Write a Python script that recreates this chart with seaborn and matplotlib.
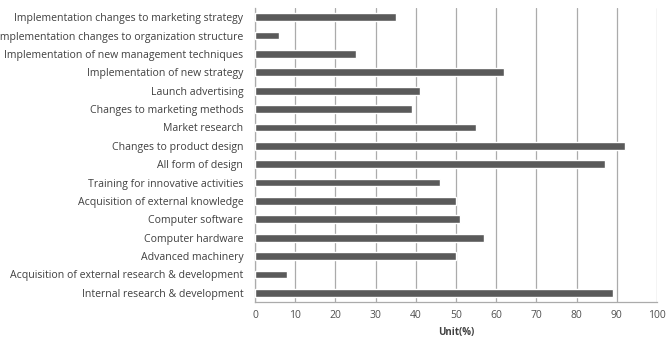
import matplotlib
matplotlib.use("Agg")
import matplotlib.pyplot as plt
import seaborn as sns
import pandas as pd

categories = [
    "Implementation changes to marketing strategy",
    "Implementation changes to organization structure",
    "Implementation of new management techniques",
    "Implementation of new strategy",
    "Launch advertising",
    "Changes to marketing methods",
    "Market research",
    "Changes to product design",
    "All form of design",
    "Training for innovative activities",
    "Acquisition of external knowledge",
    "Computer software",
    "Computer hardware",
    "Advanced machinery",
    "Acquisition of external research & development",
    "Internal research & development",
]
values = [35, 6, 25, 62, 41, 39, 55, 92, 87, 46, 50, 51, 57, 50, 8, 89]
x_ticks = [0, 10, 20, 30, 40, 50, 60, 70, 80, 90, 100]
x_label = "Unit(%)"

sns.set_theme(style="white")
plt.rcParams["font.family"] = ["Open Sans", "DejaVu Sans"]

df = pd.DataFrame({"category": categories, "value": values})

fig = plt.figure(figsize=(6.7, 3.4), dpi=100)
ax = fig.add_axes([255 / 670, 1 - 302 / 340, (657 - 255) / 670, (302 - 8) / 340])

sns.barplot(data=df, y="category", x="value", orient="h", color="#5a5a5a",
            width=0.42, saturation=1, ax=ax, zorder=3)

ax.set_xlim(0, 100)
ax.set_xticks(x_ticks)
ax.set_xticklabels([str(t) for t in x_ticks], fontsize=7.5, color="#505050")
ax.set_ylim(len(categories) - 0.5, -0.5)
ax.tick_params(axis="y", labelsize=7.6, labelcolor="#404040", length=0, pad=8.5)
ax.tick_params(axis="x", length=0, pad=6)
ax.set_ylabel("")
ax.set_xlabel(x_label, fontsize=7, fontweight="bold", color="#404040", labelpad=4)

ax.xaxis.grid(True, color="#ababab", linewidth=0.9, zorder=0)
ax.yaxis.grid(False)
for s in ["top", "right"]:
    ax.spines[s].set_visible(False)
for s in ["left", "bottom"]:
    ax.spines[s].set_color("#ababab")
    ax.spines[s].set_linewidth(0.9)

fig.savefig("out.png", dpi=100)
